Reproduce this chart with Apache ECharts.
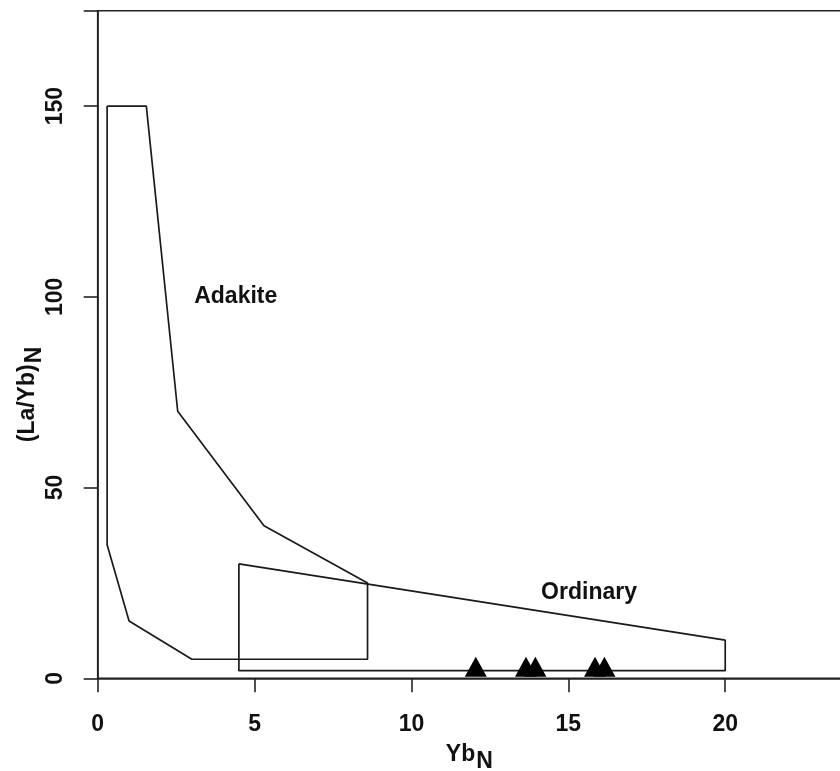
<!DOCTYPE html>
<html>
<head>
<meta charset="utf-8">
<script src="https://cdn.jsdelivr.net/npm/echarts@6/dist/echarts.min.js"></script>
<style>html,body{margin:0;padding:0;background:#fff;}#c{width:840px;height:771px;}</style>
</head>
<body>
<div id="c"></div>
<script>
// Field boundaries (x = Yb_N, y = (La/Yb)_N)
const adakiteX = [0.3, 1.55, 2.55, 5.3, 8.6, 8.6, 3.0, 1.0, 0.3, 0.3];
const adakiteY = [150, 150, 70, 40, 25, 5, 5, 15, 35, 150];
const ordinaryX = [4.5, 20, 20, 4.5, 4.5];
const ordinaryY = [30, 10, 2, 2, 30];
// Samples
const sampleX = [12.05, 13.65, 13.95, 15.85, 16.15];
const sampleY = [3, 3, 3, 3, 3];
// Axis ticks
const xTicks = [0, 5, 10, 15, 20];
const yTicks = [0, 50, 100, 150];
// Field labels
const fieldLabels = [
  {name: 'Adakite', x: 4.4, y: 100},
  {name: 'Ordinary', x: 15.66, y: 22.4}
];

const zip = (xs, ys) => xs.map((x, i) => [x, ys[i]]);
const FONT = '"Liberation Sans", Arial, sans-serif';
const chart = echarts.init(document.getElementById('c'));
const lineStyle = {color: '#1a1a1a', width: 1.7};

chart.setOption({
  backgroundColor: '#fff',
  animation: false,
  grid: {left: 97.7, top: 10.7, bottom: 92.7, right: -1, containLabel: false, outerBoundsMode: 'none',
    show: true, borderColor: '#222', borderWidth: 1.6, backgroundColor: 'transparent'},
  xAxis: {
    type: 'value', min: 0, max: 23.69, interval: 5,
    axisLine: {show: true, lineStyle: {color: '#222', width: 1.6}},
    axisTick: {show: true, length: 14, lineStyle: {color: '#222', width: 1.6}},
    splitLine: {show: false},
    axisLabel: {color: '#111', fontFamily: FONT, fontWeight: 'bold', fontSize: 23, margin: 35,
      formatter: v => xTicks.includes(v) ? String(v) : ''},
    name: '{a|Yb}{b|N}', nameLocation: 'middle', nameGap: 58, nameMoveOverlap: false,
    nameTextStyle: {rich: {
      a: {fontFamily: FONT, fontWeight: 'bold', fontSize: 23, color: '#111'},
      b: {fontFamily: FONT, fontWeight: 'bold', fontSize: 23, color: '#111', padding: [14, 0, 0, 1]}
    }}
  },
  yAxis: {
    type: 'value', min: 0, max: 175, interval: 50,
    axisLine: {show: true, lineStyle: {color: '#222', width: 1.6}},
    axisTick: {show: true, length: 14, lineStyle: {color: '#222', width: 1.6}},
    splitLine: {show: false},
    axisLabel: {color: '#111', fontFamily: FONT, fontWeight: 'bold', fontSize: 23, rotate: 90, margin: 31,
      formatter: v => yTicks.includes(v) ? String(v) : ''},
    name: '{a|(La/Yb)}{b|N}', nameLocation: 'middle', nameGap: 52, nameRotate: 90, nameMoveOverlap: false,
    nameTextStyle: {padding: [0, 100, 0, 0], rich: {
      a: {fontFamily: FONT, fontWeight: 'bold', fontSize: 23, color: '#111'},
      b: {fontFamily: FONT, fontWeight: 'bold', fontSize: 23, color: '#111', padding: [14, 0, 0, 1]}
    }}
  },
  series: [
    {type: 'line', data: zip(adakiteX, adakiteY), symbol: 'none', lineStyle: lineStyle, silent: true},
    {type: 'line', data: zip(ordinaryX, ordinaryY), symbol: 'none', lineStyle: lineStyle, silent: true},
    {type: 'scatter', data: zip(sampleX, sampleY), symbol: 'triangle', symbolSize: [22, 20],
      itemStyle: {color: '#000', opacity: 1}, z: 5},
    {type: 'scatter', data: fieldLabels.map(d => ({name: d.name, value: [d.x, d.y]})),
      symbolSize: 1, silent: true, itemStyle: {opacity: 0},
      label: {show: true, position: 'inside', formatter: p => p.name, color: '#111', opacity: 1,
        fontFamily: FONT, fontWeight: 'bold', fontSize: 23}}
  ]
});
</script>
</body>
</html>
